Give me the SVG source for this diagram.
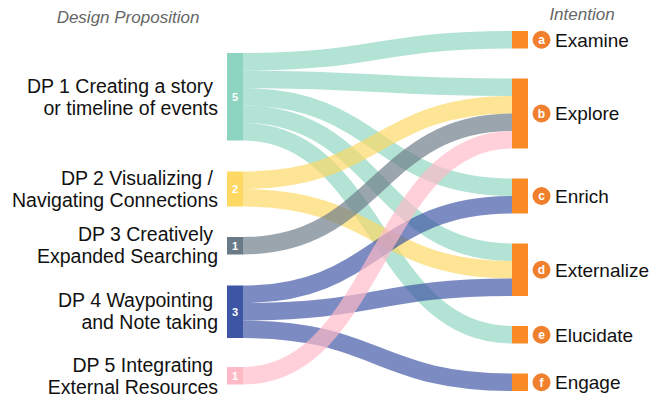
<svg xmlns="http://www.w3.org/2000/svg" width="652" height="400" viewBox="0 0 652 400">
<style>
.hdr{font-family:"Liberation Sans",Arial,sans-serif;font-size:17px;font-style:italic;fill:#666}
.lbl{font-family:"Liberation Sans",Arial,sans-serif;font-size:19.5px;fill:#111}
.rl{font-family:"Liberation Sans",Arial,sans-serif;font-size:19px;fill:#111}
.num{font-family:"Liberation Sans",Arial,sans-serif;font-size:11px;font-weight:bold;fill:#fff;text-anchor:middle}
.bdg{font-family:"Liberation Sans",Arial,sans-serif;font-size:12px;font-weight:bold;fill:#fff;text-anchor:middle}
.lk{fill:none;stroke-width:17.5;stroke-opacity:0.68}
.g{stroke:#8dd5c0}.y{stroke:#fdd963}.s{stroke:#6b7a87}.b{stroke:#3e54a4}.p{stroke:#ffbac8}
.tn{fill:#f98a26}
.bc{fill:#f0802e}
</style>
<rect width="652" height="400" fill="#fff"/>
<text class="hdr" x="128" y="23" text-anchor="middle">Design Proposition</text>
<text class="hdr" x="582" y="20" text-anchor="middle">Intention</text>
<g id="links">
<path class="lk g" d="M243,61.75 C377.5,61.75 377.5,39.75 512,39.75"/>
<path class="lk g" d="M243,79.25 C377.5,79.25 377.5,87.25 512,87.25"/>
<path class="lk g" d="M243,96.75 C377.5,96.75 377.5,187.25 512,187.25"/>
<path class="lk g" d="M243,114.25 C377.5,114.25 377.5,252.25 512,252.25"/>
<path class="lk g" d="M243,131.75 C377.5,131.75 377.5,334.75 512,334.75"/>
<path class="lk y" d="M243,180.25 C377.5,180.25 377.5,104.75 512,104.75"/>
<path class="lk y" d="M243,197.75 C377.5,197.75 377.5,269.75 512,269.75"/>
<path class="lk s" d="M243,245.75 C377.5,245.75 377.5,122.25 512,122.25"/>
<path class="lk b" d="M243,294.25 C377.5,294.25 377.5,204.75 512,204.75"/>
<path class="lk b" d="M243,311.75 C377.5,311.75 377.5,287.25 512,287.25"/>
<path class="lk b" d="M243,329.25 C377.5,329.25 377.5,382.25 512,382.25"/>
<path class="lk p" d="M243,375.75 C377.5,375.75 377.5,139.75 512,139.75"/>
</g>
<g id="dp1">
<rect x="227" y="53" width="16" height="87.5" fill="#8dd5c0"/>
<text class="num" x="235" y="101">5</text>
<text class="lbl" x="213" y="93" text-anchor="end">DP 1 Creating a story</text>
<text class="lbl" x="218" y="115" text-anchor="end">or timeline of events</text>
</g>
<g id="dp2">
<rect x="227" y="171.5" width="16" height="35" fill="#fdd963"/>
<text class="num" x="235" y="193">2</text>
<text class="lbl" x="213" y="185" text-anchor="end">DP 2 Visualizing /</text>
<text class="lbl" x="218" y="207" text-anchor="end">Navigating Connections</text>
</g>
<g id="dp3">
<rect x="227" y="237" width="16" height="17.5" fill="#6b7a87"/>
<text class="num" x="235" y="249.5">1</text>
<text class="lbl" x="213" y="241" text-anchor="end">DP 3 Creatively</text>
<text class="lbl" x="218" y="263" text-anchor="end">Expanded Searching</text>
</g>
<g id="dp4">
<rect x="227" y="285.5" width="16" height="52.5" fill="#3e54a4"/>
<text class="num" x="235" y="315.5">3</text>
<text class="lbl" x="213" y="307" text-anchor="end">DP 4 Waypointing</text>
<text class="lbl" x="218" y="329" text-anchor="end">and Note taking</text>
</g>
<g id="dp5">
<rect x="227" y="367" width="16" height="17.5" fill="#ffbac8"/>
<text class="num" x="235" y="379.5">1</text>
<text class="lbl" x="213" y="372" text-anchor="end">DP 5 Integrating</text>
<text class="lbl" x="218" y="394" text-anchor="end">External Resources</text>
</g>
<g id="examine">
<rect class="tn" x="512" y="31" width="16" height="17.5"/>
<circle class="bc" cx="541.5" cy="39.75" r="9"/>
<text class="bdg" x="541.5" y="44">a</text>
<text class="rl" x="555" y="46.5">Examine</text>
</g>
<g id="explore">
<rect class="tn" x="512" y="78.5" width="16" height="70"/>
<circle class="bc" cx="541.5" cy="113.5" r="9"/>
<text class="bdg" x="541.5" y="117.8">b</text>
<text class="rl" x="555" y="120.3">Explore</text>
</g>
<g id="enrich">
<rect class="tn" x="512" y="178.5" width="16" height="35"/>
<circle class="bc" cx="541.5" cy="196" r="9"/>
<text class="bdg" x="541.5" y="200.3">c</text>
<text class="rl" x="555" y="202.8">Enrich</text>
</g>
<g id="externalize">
<rect class="tn" x="512" y="243.5" width="16" height="52.5"/>
<circle class="bc" cx="541.5" cy="269.75" r="9"/>
<text class="bdg" x="541.5" y="274">d</text>
<text class="rl" x="555" y="276.5">Externalize</text>
</g>
<g id="elucidate">
<rect class="tn" x="512" y="326" width="16" height="17.5"/>
<circle class="bc" cx="541.5" cy="334.75" r="9"/>
<text class="bdg" x="541.5" y="339">e</text>
<text class="rl" x="555" y="341.5">Elucidate</text>
</g>
<g id="engage">
<rect class="tn" x="512" y="373.5" width="16" height="17.5"/>
<circle class="bc" cx="541.5" cy="382.25" r="9"/>
<text class="bdg" x="541.5" y="386.5">f</text>
<text class="rl" x="555" y="389">Engage</text>
</g>
</svg>
